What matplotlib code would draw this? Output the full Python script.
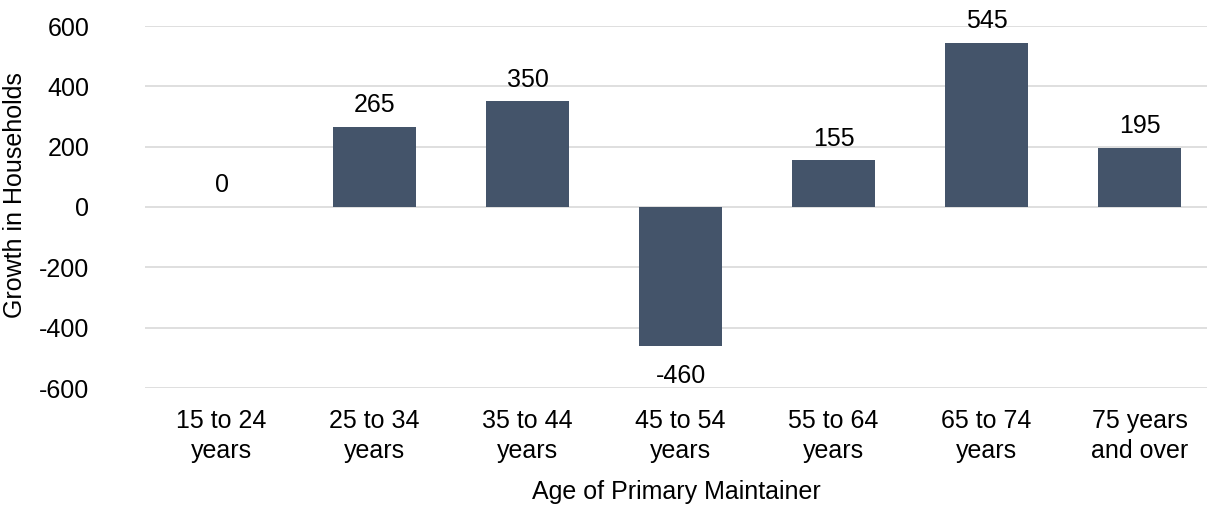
import numpy as np
import matplotlib
matplotlib.use("Agg")
import matplotlib.pyplot as plt

plt.rcParams["font.family"] = ["Liberation Sans", "DejaVu Sans"]

categories = ["15 to 24\nyears", "25 to 34\nyears", "35 to 44\nyears", "45 to 54\nyears",
              "55 to 64\nyears", "65 to 74\nyears", "75 years\nand over"]
growth = [0, 265, 350, -460, 155, 545, 195]
yticks = [-600, -400, -200, 0, 200, 400, 600]

bar_color = "#44546A"
grid_color = "#D9D9D9"
fs = 18

fig = plt.figure(figsize=(12.07, 5.2), dpi=100)
ax = fig.add_axes([145 / 1207, 1 - 388 / 520, 1 - 145 / 1207, (388 - 26) / 520])

x = np.arange(len(categories))
ax.bar(x, growth, width=0.54, color=bar_color, zorder=3)

for xi, v in zip(x, growth):
    if v < 0:
        ax.annotate(str(v), (xi, v), xytext=(0, -13), textcoords="offset points",
                    ha="center", va="top", fontsize=fs)
    else:
        ax.annotate(str(v), (xi, v), xytext=(0, 7), textcoords="offset points",
                    ha="center", va="bottom", fontsize=fs)

ax.set_ylim(-600, 600)
ax.set_xlim(-0.5, 6.44)
ax.set_yticks(yticks)
ax.set_yticklabels([str(t) for t in yticks], fontsize=fs)
ax.set_xticks(x)
ax.set_xticklabels(categories, fontsize=fs, linespacing=1.35)
ax.tick_params(axis="x", length=0, pad=15)
ax.tick_params(axis="y", length=0, pad=40)
ax.grid(axis="y", color=grid_color, linewidth=1.2, zorder=0)
for s in ax.spines.values():
    s.set_visible(False)

ax.set_xlabel("Age of Primary Maintainer", fontsize=fs, labelpad=12)
fig.text(15 / 1207, 1 - 195 / 520, "Growth in Households", rotation=90,
         ha="center", va="center", fontsize=fs)

fig.savefig("out.png", dpi=100)
